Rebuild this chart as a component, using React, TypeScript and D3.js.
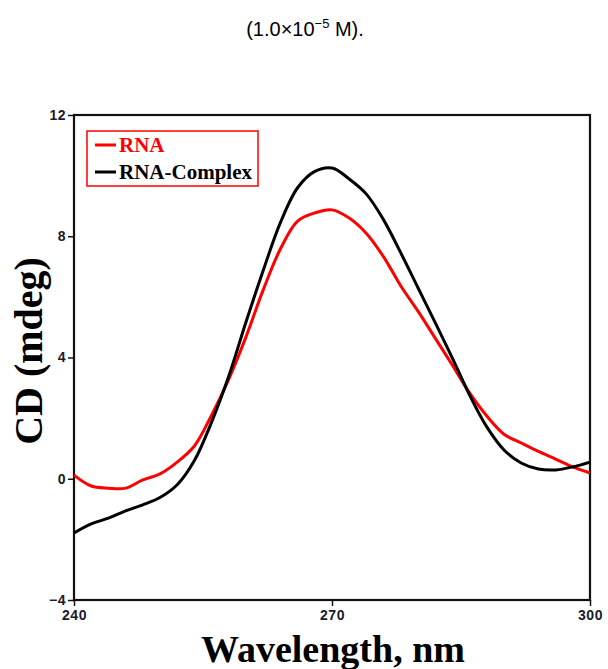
import React, { useEffect, useRef } from "react";
import * as d3 from "d3";

const wavelengths = [
  240, 242, 244, 246, 248, 250, 252, 254, 256, 258, 260, 262, 264, 266, 268, 270,
  272, 274, 276, 278, 280, 282, 284, 286, 288, 290, 292, 294, 296, 298, 300,
];
const rnaCD = [
  0.12, -0.24, -0.31, -0.31, -0.04, 0.16, 0.55, 1.08, 2.1, 3.29, 4.68, 6.23, 7.58, 8.5,
  8.77, 8.87, 8.6, 8.09, 7.32, 6.36, 5.53, 4.64, 3.75, 2.83, 2.07, 1.47, 1.18, 0.9, 0.65,
  0.39, 0.19,
];
const complexCD = [
  -1.79, -1.49, -1.3, -1.06, -0.86, -0.62, -0.2, 0.6, 1.87, 3.39, 5.17, 6.87, 8.45, 9.6,
  10.14, 10.25, 9.89, 9.39, 8.54, 7.45, 6.3, 5.15, 3.98, 2.76, 1.71, 0.95, 0.52, 0.32, 0.29,
  0.39, 0.55,
];
const xTicks = [240, 270, 300];
const yTicks = [-4, 0, 4, 8, 12];
const seriesNames = ["RNA", "RNA-Complex"];
const seriesColors = ["#ff0000", "#000000"];

function App() {
  const svgRef = useRef<SVGSVGElement | null>(null);

  useEffect(() => {
    const W = 608;
    const H = 669;
    const margin = { top: 115, right: 18, bottom: 69, left: 74 };
    const width = W - margin.left - margin.right;
    const height = H - margin.top - margin.bottom;

    const root = d3.select(svgRef.current);
    root.selectAll("*").remove();
    root.attr("width", W).attr("height", H);

    // title line from the caption
    const title = root
      .append("text")
      .attr("x", 305)
      .attr("y", 36)
      .attr("text-anchor", "middle")
      .style("font-family", "Arial, 'Liberation Sans', sans-serif")
      .style("font-size", "20px")
      .style("fill", "#000");
    title.append("tspan").text("(1.0×10");
    title.append("tspan").attr("dy", -8).style("font-size", "13px").text("−5");
    title.append("tspan").attr("dy", 8).text(" M).");

    const svg = root
      .append("g")
      .attr("transform", `translate(${margin.left}, ${margin.top})`);

    const x = d3.scaleLinear().domain([240, 300]).range([0, width]);
    const y = d3.scaleLinear().domain([-4, 12]).range([height, 0]);

    // axes
    const xAxis = svg
      .append("g")
      .attr("transform", `translate(0, ${height})`)
      .call(d3.axisBottom(x).tickValues(xTicks).tickSize(6).tickPadding(4).tickFormat(d3.format("d")));
    const yAxis = svg
      .append("g")
      .call(d3.axisLeft(y).tickValues(yTicks).tickSize(6).tickPadding(2).tickFormat(d3.format("d")));

    [xAxis, yAxis].forEach((a) => {
      a.select(".domain").remove();
      a.selectAll("line").attr("stroke", "#111").attr("stroke-width", 1.5);
      a.selectAll("text")
        .style("font-family", "Arial, 'Liberation Sans', sans-serif")
        .style("font-weight", "bold")
        .style("font-size", "14px")
        .style("letter-spacing", "0.5px")
        .style("fill", "#1a1a2a");
    });

    // frame
    svg
      .append("rect")
      .attr("x", 0)
      .attr("y", 0)
      .attr("width", width)
      .attr("height", height)
      .attr("fill", "none")
      .attr("stroke", "#111")
      .attr("stroke-width", 2.2);

    const line = d3
      .line<number>()
      .x((_, i) => x(wavelengths[i]))
      .y((d) => y(d))
      .curve(d3.curveCatmullRom.alpha(0.5));

    [rnaCD, complexCD].forEach((vals, k) => {
      svg
        .append("path")
        .datum(vals)
        .attr("d", line)
        .attr("fill", "none")
        .attr("stroke", seriesColors[k])
        .attr("stroke-width", 3);
    });

    // legend
    const legend = root.append("g");
    legend
      .append("rect")
      .attr("x", 87)
      .attr("y", 131)
      .attr("width", 171)
      .attr("height", 55)
      .attr("fill", "#fff")
      .attr("stroke", "#ff0000")
      .attr("stroke-width", 1.5);
    seriesNames.forEach((name, i) => {
      const cy = 145 + i * 27;
      legend
        .append("line")
        .attr("x1", 95)
        .attr("x2", 116)
        .attr("y1", cy)
        .attr("y2", cy)
        .attr("stroke", seriesColors[i])
        .attr("stroke-width", 3);
      legend
        .append("text")
        .attr("x", 119)
        .attr("y", cy + 7)
        .style("font-family", "'Liberation Serif', 'Times New Roman', serif")
        .style("font-weight", "bold")
        .style("font-size", "21px")
        .style("fill", seriesColors[i])
        .text(name);
    });

    // axis titles
    root
      .append("text")
      .attr("x", 333)
      .attr("y", 662)
      .attr("text-anchor", "middle")
      .style("font-family", "'Liberation Serif', 'Times New Roman', serif")
      .style("font-weight", "bold")
      .style("font-size", "38px")
      .text("Wavelength, nm");

    root
      .append("text")
      .attr("transform", "translate(42, 351) rotate(-90)")
      .attr("text-anchor", "middle")
      .style("font-family", "'Liberation Serif', 'Times New Roman', serif")
      .style("font-weight", "bold")
      .style("font-size", "40px")
      .text("CD (mdeg)");
  }, []);

  return (
    <div>
      <svg ref={svgRef} style={{ position: "absolute", left: 0, top: 0 }}></svg>
    </div>
  );
}

export default App;
